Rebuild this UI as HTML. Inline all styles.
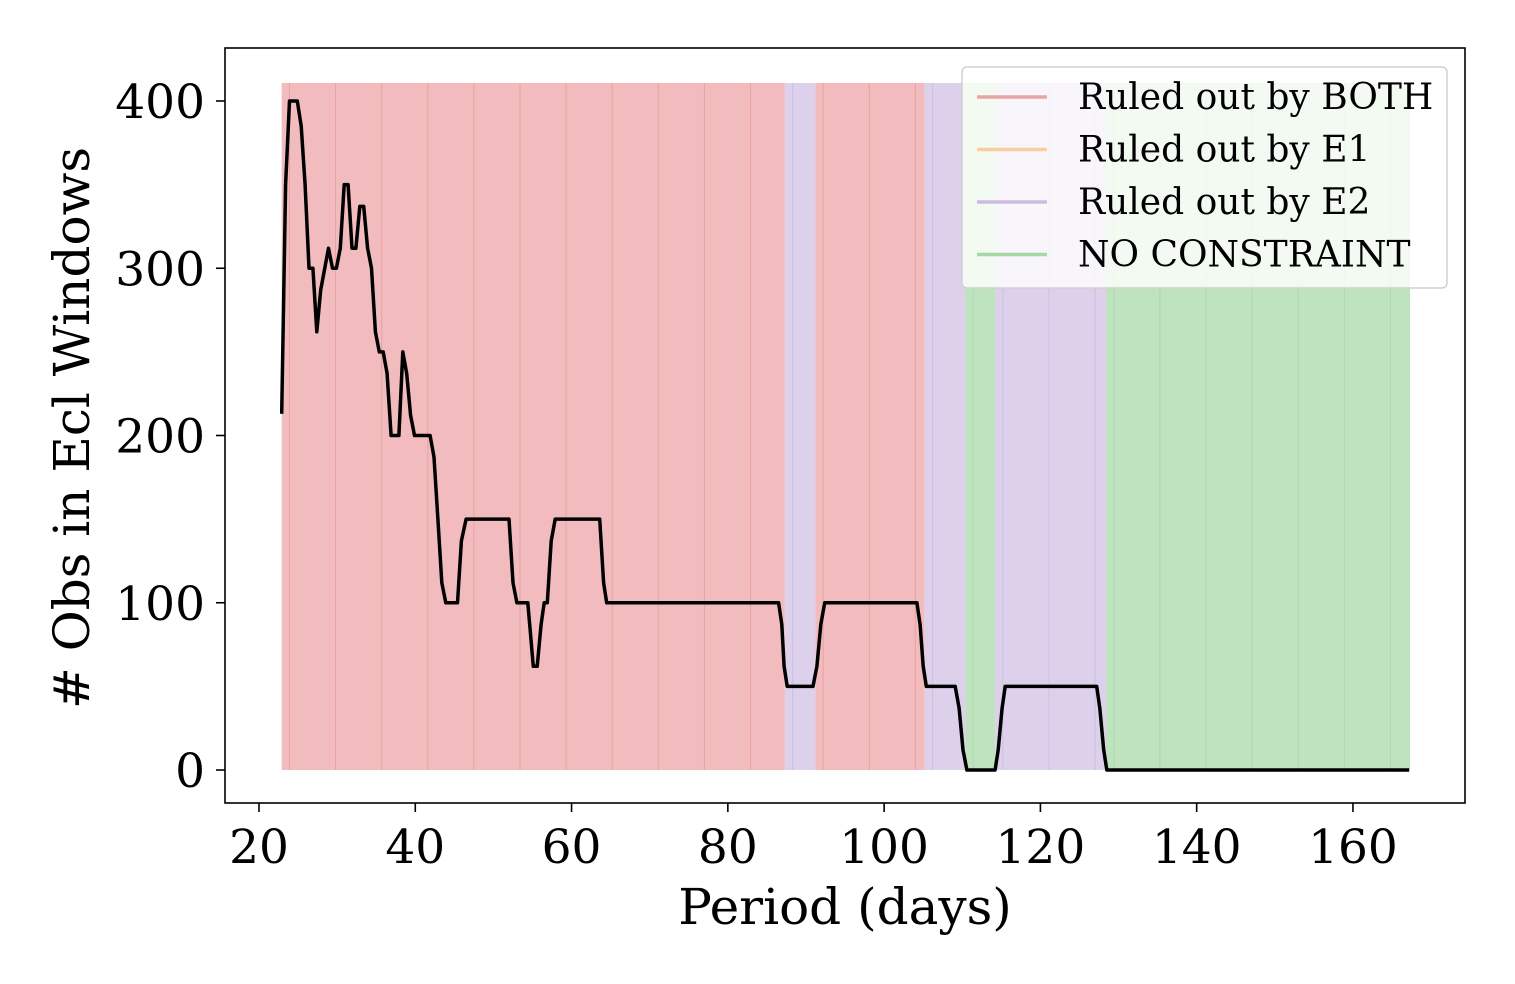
<!DOCTYPE html>
<html><head><meta charset="utf-8"><style>
body{margin:0;background:#fff;}
svg{display:block;font-family:"DejaVu Serif","Liberation Serif",serif;}
</style></head><body>
<svg id="chart" width="1515" height="984" viewBox="0 0 1515 984">
<g id="bands"></g>
<g id="lines"></g>
<path id="series" fill="none" stroke="#000" stroke-width="3.5" stroke-linejoin="round"/>
<rect x="225" y="48" width="1240" height="755" fill="none" stroke="#000" stroke-width="1.6"/>
<g id="xticks"></g>
<g id="yticks"></g>
<text x="845" y="924" font-size="50" text-anchor="middle">Period (days)</text>
<text transform="translate(89,428) rotate(-90)" font-size="50" text-anchor="middle"># Obs in Ecl Windows</text>
<g>
<rect x="962" y="67" width="485" height="221" rx="5" fill="#fff" fill-opacity="0.8" stroke="#d0d0d0" stroke-width="1.5"/>
<g id="legend"></g>
</g>
</svg>
<script>
const periods=[22.9,23.4,23.9,24.9,25.4,25.9,26.4,26.9,27.4,27.9,28.9,29.4,29.9,30.4,30.9,31.4,31.9,32.4,32.9,33.4,33.9,34.4,34.9,35.4,35.9,36.4,36.9,37.9,38.4,38.9,39.4,39.9,41.9,42.4,42.9,43.4,43.9,45.4,45.9,46.5,52.0,52.5,53.0,54.4,55.1,55.6,56.1,56.5,56.9,57.4,57.9,63.6,64.1,64.5,86.5,86.9,87.2,87.6,90.9,91.4,91.9,92.4,104.2,104.6,105.0,105.4,109.1,109.6,110.1,110.6,114.2,114.6,115.1,115.5,127.2,127.6,128.1,128.5,167.2];
const counts=[213,350,400,400,385,350,300,300,262,287,312,300,300,312,350,350,312,312,337,337,312,300,262,250,250,237,200,200,250,237,212,200,200,187,150,112,100,100,137,150,150,112,100,100,62,62,87,100,100,137,150,150,112,100,100,87,62,50,50,62,87,100,100,87,62,50,50,37,12,0,0,12,37,50,50,37,12,0,0];
const bandStarts=[22.9,87.3,91.2,105.2,110.4,114.2,128.4];
const bandEnds=[87.3,91.2,105.2,110.4,114.2,128.4,167.3];
const bandKinds=["both","e2","both","e2","none","e2","none"];
const xTicks=[20,40,60,80,100,120,140,160];
const yTicks=[0,100,200,300,400];
const legendLabels=["Ruled out by BOTH","Ruled out by E1","Ruled out by E2","NO CONSTRAINT"];
const legendColors=["#e8a3a5","#fbcc9f","#cdbbe2","#a6d8a6"];
const bandFill={both:"#f2bcbe",e2:"#ddd0ea",none:"#bfe3bf"};
const bandLine={both:"#e89495",e2:"#c8b6e0",none:"#a4d3a4"};
const NS="http://www.w3.org/2000/svg";
const X=p=>259+(p-20)*7.814, Y=v=>770-v*1.6725;
function mk(t,a,parent){const e=document.createElementNS(NS,t);for(const k in a)e.setAttribute(k,a[k]);parent.appendChild(e);return e;}
const bands=document.getElementById('bands'), lines=document.getElementById('lines');
bandStarts.forEach((s,i)=>{
 const r=mk('rect',{x:X(s),y:Y(410.8),width:X(bandEnds[i])-X(s),height:Y(0)-Y(410.8),fill:bandFill[bandKinds[i]]},bands);
 
 
 for(let p=s+1;p<bandEnds[i];p+=5.9){
  const l=mk('line',{x1:X(p),x2:X(p),y1:Y(410.8),y2:Y(0),stroke:bandLine[bandKinds[i]],'stroke-width':1,'stroke-opacity':0.7},lines);
  
  
 }
});
document.getElementById('series').setAttribute('d',periods.map((p,i)=>(i?'L':'M')+X(p).toFixed(1)+' '+Y(counts[i]).toFixed(1)).join(' '));
const xt=document.getElementById('xticks');
xTicks.forEach(t=>{
 mk('line',{x1:X(t),x2:X(t),y1:803,y2:812,stroke:'#000','stroke-width':1.6},xt);
 const tx=mk('text',{x:X(t),y:863,'font-size':47,'text-anchor':'middle'},xt);tx.textContent=t;
 
 
});
const yt=document.getElementById('yticks');
yTicks.forEach(t=>{
 mk('line',{x1:216,x2:225,y1:Y(t),y2:Y(t),stroke:'#000','stroke-width':1.6},yt);
 const tx=mk('text',{x:205,y:Y(t)+17,'font-size':47,'text-anchor':'end'},yt);tx.textContent=t;
 
 
});
const lg=document.getElementById('legend');
legendLabels.forEach((lab,i)=>{
 const y=97+i*52.5;
 const g=mk('g',{},lg);
 
 
 mk('line',{x1:977,x2:1047,y1:y,y2:y,stroke:legendColors[i],'stroke-width':3.5},g);
 const tx=mk('text',{x:1078,y:y+12,'font-size':36},g);tx.textContent=lab;
});
</script>
</body></html>
